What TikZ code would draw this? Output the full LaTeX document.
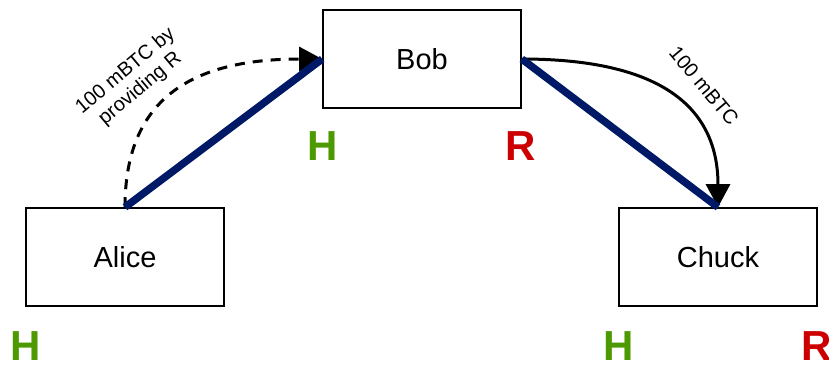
\documentclass[tikz,border=0pt]{standalone}
\usepackage{fontspec}
\setmainfont{Liberation Sans}
\usepackage{xcolor}
\usetikzlibrary{arrows.meta}

\definecolor{chanblue}{HTML}{001966}
\definecolor{hashgreen}{HTML}{4D9900}
\definecolor{revred}{HTML}{CC0000}

\begin{document}
\begin{tikzpicture}[
  x=1pt, y=-1pt,
  party/.style={rectangle, draw, line width=1.6pt, minimum width=198pt, minimum height=98pt,
                inner sep=0pt, font=\fontsize{29}{34}\selectfont},
  channel/.style={chanblue, line width=7.5pt},
  hash/.style={hashgreen, inner sep=0pt, font=\fontsize{42}{48}\selectfont\bfseries},
  preimage/.style={revred, inner sep=0pt, font=\fontsize{42}{48}\selectfont\bfseries},
  payment/.style={-{Triangle[length=23pt, width=24pt]}, line width=3pt},
  amount/.style={font=\fontsize{20}{23}\selectfont, align=center},
]
\useasboundingbox (0,0) rectangle (829,365);

% Parties
\node[party] (alice) at (125,257) {Alice};
\node[party] (bob) at (422,59) {Bob};
\node[party] (chuck) at (718,257) {Chuck};

% Hashes and preimages held by each party
\node[hash] (alice-h) at (26,346) {H};
\node[hash] (bob-h) at (323,146) {H};
\node[preimage] (bob-r) at (521,146) {R};
\node[hash] (chuck-h) at (619,346) {H};
\node[preimage] (chuck-r) at (817,346) {R};

% Payments
\draw[payment, dashed, dash pattern=on 10pt off 8pt] (alice.north)
  .. controls (125,100) and (190,59) .. (bob.west);
\node[amount, rotate=40] (ab-amount) at (133,80) {100 mBTC by\\providing R};

\draw[payment] (bob.east)
  .. controls (650,59) and (718,100) .. (chuck.north);
\node[amount, rotate=-50] (bc-amount) at (704,86) {100 mBTC};

% Channels
\draw[channel] (alice.north) -- (bob.west);
\draw[channel] (bob.east) -- (chuck.north);

\end{tikzpicture}
\end{document}
